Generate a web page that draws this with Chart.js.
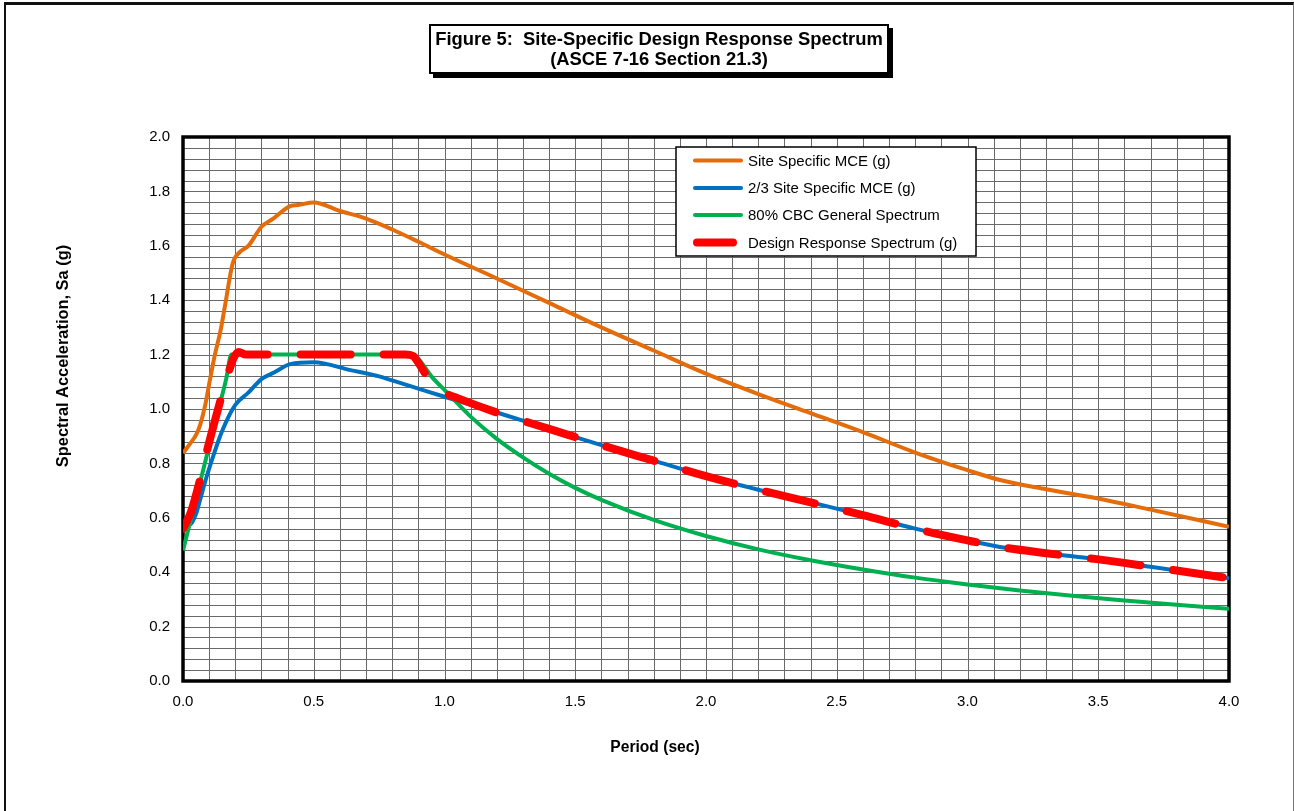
<!DOCTYPE html>
<html>
<head>
<meta charset="utf-8">
<title>Site-Specific Design Response Spectrum</title>
<script src="https://cdn.jsdelivr.net/npm/chart.js@4.4.0/dist/chart.umd.min.js"></script>
<style>
    html, body { margin: 0; padding: 0; background: #fff; overflow: hidden; }
    #page { position: relative; width: 1294px; height: 811px; }
    #frame {
        position: absolute; left: 4px; top: 2px; width: 1287px; height: 840px;
        border-left: 2px solid #111; border-top: 3px solid #111; border-right: 1px solid #777;
    }
    #chart { position: absolute; left: 0; top: 0; }
    #title {
        position: absolute; left: 429px; top: 24px; width: 460px; height: 50px;
        box-sizing: border-box; border: 2px solid #000; box-shadow: 4px 4px 0 #000;
        background: #fff; text-align: center; white-space: pre;
        font: bold 18.4px "Liberation Sans", Arial, sans-serif; line-height: 20px; padding-top: 3px;
    }
</style>
</head>
<body>
<div id="page">
    <div id="frame"></div>
    <canvas id="chart" width="1294" height="811"></canvas>
    <div id="title">Figure 5:  Site-Specific Design Response Spectrum
(ASCE 7-16 Section 21.3)</div>
</div>
<script>
// ===== DATOS =====
const mcePeriods = [0, 0.025, 0.05, 0.065, 0.084, 0.103, 0.122, 0.144, 0.16, 0.19, 0.215, 0.25, 0.3, 0.345, 0.41, 0.44, 0.5,
    0.6, 0.7, 0.8, 0.9, 1.0, 1.2, 1.4, 1.6, 1.8, 2.0, 2.2, 2.4, 2.6, 2.8, 3.0, 3.124, 3.3, 3.494, 3.7, 4.0];
const mceValues = [0.838, 0.87, 0.905, 0.94, 1.01, 1.107, 1.2, 1.29, 1.376, 1.535, 1.575, 1.6, 1.67, 1.7, 1.746, 1.75, 1.759,
    1.728, 1.7, 1.66, 1.615, 1.568, 1.48, 1.39, 1.3, 1.215, 1.13, 1.055, 0.985, 0.915, 0.84, 0.775, 0.739, 0.705, 0.672, 0.63, 0.567];

const twoThirdsPeriods = [0, 0.027, 0.05, 0.065, 0.09, 0.12, 0.15, 0.2, 0.25, 0.3, 0.35, 0.41, 0.5, 0.64, 0.75, 0.8, 0.9,
    1.0, 1.2, 1.4, 1.6, 1.8, 2.0, 2.2, 2.4, 2.6, 2.8, 3.0, 3.124, 3.3, 3.494, 3.7, 4.0];
const twoThirdsValues = [0.572, 0.575, 0.615, 0.665, 0.75, 0.84, 0.92, 1.015, 1.06, 1.11, 1.135, 1.165, 1.172, 1.143, 1.12, 1.105, 1.075,
    1.045, 0.987, 0.927, 0.867, 0.81, 0.753, 0.703, 0.657, 0.61, 0.56, 0.517, 0.493, 0.47, 0.448, 0.42, 0.378];

const cbcPeriods = [0, 0.06, 0.12, 0.165, 0.185, 0.3, 0.5, 0.7, 0.87, 0.9, 0.92, 0.95, 1.0, 1.1, 1.2, 1.3, 1.4, 1.5, 1.6,
    1.8, 2.0, 2.2, 2.4, 2.6, 2.8, 3.0, 3.2, 3.4, 3.6, 3.8, 4.0];
const cbcValues = [0.48, 0.71, 0.94, 1.11, 1.2, 1.2, 1.2, 1.2, 1.2, 1.185, 1.16, 1.12, 1.07, 0.972, 0.89, 0.822, 0.762, 0.71, 0.666,
    0.592, 0.533, 0.484, 0.444, 0.41, 0.38, 0.355, 0.333, 0.313, 0.296, 0.28, 0.266];

const designPeriods = [0, 0.03, 0.065, 0.09, 0.147, 0.173, 0.195, 0.213, 0.24, 0.3, 0.5, 0.7, 0.85, 0.88, 0.9, 0.93, 0.97, 1.0, 1.05,
    1.2, 1.4, 1.6, 1.8, 2.0, 2.2, 2.4, 2.6, 2.8, 3.0, 3.124, 3.3, 3.494, 3.7, 4.0];
const designValues = [0.56, 0.62, 0.74, 0.84, 1.045, 1.13, 1.19, 1.21, 1.2, 1.2, 1.2, 1.2, 1.2, 1.195, 1.17, 1.125, 1.085, 1.06, 1.04,
    0.987, 0.927, 0.867, 0.81, 0.753, 0.703, 0.657, 0.61, 0.56, 0.517, 0.493, 0.47, 0.448, 0.42, 0.378];

// ejes
const xMax = 4.0, xGridStep = 0.1, xLabelStep = 0.5;
const yMax = 2.0, yGridStep = 0.04, yLabelStep = 0.2;

const fontFamily = '"Liberation Sans", Arial, sans-serif';

function toPoints(xs, ys) {
    return xs.map((x, i) => ({ x: x, y: ys[i] }));
}

// ===== CUADRICULA Y MARCO =====
const gridAndFrame = {
    id: 'gridAndFrame',
    beforeDatasetsDraw(chart) {
        const { ctx, chartArea: a, scales: { x, y } } = chart;
        ctx.save();
        ctx.strokeStyle = '#6a6a6a';
        ctx.lineWidth = 1;
        ctx.beginPath();
        const nx = Math.round(xMax / xGridStep);
        for (let i = 1; i < nx; i++) {
            const px = Math.round(x.getPixelForValue(i * xGridStep)) + 0.5;
            ctx.moveTo(px, a.top);
            ctx.lineTo(px, a.bottom);
        }
        const ny = Math.round(yMax / yGridStep);
        for (let i = 1; i < ny; i++) {
            const py = Math.round(y.getPixelForValue(i * yGridStep)) + 0.5;
            ctx.moveTo(a.left, py);
            ctx.lineTo(a.right, py);
        }
        ctx.stroke();
        ctx.strokeStyle = '#000';
        ctx.lineWidth = 3.5;
        ctx.strokeRect(a.left, a.top, a.right - a.left, a.bottom - a.top);
        ctx.restore();
    }
};

// ===== LEYENDA Y TITULOS DE EJES =====
const boxLegendAndTitles = {
    id: 'boxLegendAndTitles',
    afterDraw(chart) {
        const ctx = chart.ctx;
        ctx.save();

        // titulos de ejes
        ctx.fillStyle = '#000';
        ctx.textAlign = 'center';
        ctx.textBaseline = 'middle';
        ctx.font = 'bold 15.6px ' + fontFamily;
        ctx.fillText('Period (sec)', 655, 748);
        ctx.save();
        ctx.translate(63, 356);
        ctx.rotate(-Math.PI / 2);
        ctx.font = 'bold 16.4px ' + fontFamily;
        ctx.fillText('Spectral Acceleration, Sa (g)', 0, 0);
        ctx.restore();

        // leyenda
        const lx = 676, ly = 147, lw = 300, lh = 109;
        ctx.fillStyle = '#fff';
        ctx.fillRect(lx, ly, lw, lh);
        ctx.strokeStyle = '#000';
        ctx.lineWidth = 1.5;
        ctx.strokeRect(lx, ly, lw, lh);

        const rows = [160.5, 188, 215, 242.5];
        ctx.font = '15px ' + fontFamily;
        ctx.textAlign = 'left';
        chart.data.datasets.forEach((ds, i) => {
            const yy = rows[i];
            ctx.strokeStyle = ds.borderColor;
            ctx.lineCap = 'round';
            ctx.lineWidth = ds.borderWidth;
            ctx.beginPath();
            if (ds.borderWidth > 5) {
                ctx.moveTo(697, yy);
                ctx.lineTo(733, yy);
            } else {
                ctx.moveTo(695, yy);
                ctx.lineTo(741, yy);
            }
            ctx.stroke();
            ctx.fillStyle = '#000';
            ctx.fillText(ds.label, 748, yy + 1);
        });
        ctx.restore();
    }
};

// ===== GRAFICO =====
const ctx = document.getElementById('chart').getContext('2d');
new Chart(ctx, {
    type: 'line',
    data: {
        datasets: [
            {
                label: 'Site Specific MCE (g)',
                data: toPoints(mcePeriods, mceValues),
                borderColor: '#e46c0a', borderWidth: 4, order: 4
            },
            {
                label: '2/3 Site Specific MCE (g)',
                data: toPoints(twoThirdsPeriods, twoThirdsValues),
                borderColor: '#0070c0', borderWidth: 4, order: 3
            },
            {
                label: '80% CBC General Spectrum',
                data: toPoints(cbcPeriods, cbcValues),
                borderColor: '#00b050', borderWidth: 4, order: 2
            },
            {
                label: 'Design Response Spectrum (g)',
                data: toPoints(designPeriods, designValues),
                borderColor: '#ff0000', borderWidth: 8, order: 1,
                borderDash: [50, 33], borderCapStyle: 'round'
            }
        ]
    },
    options: {
        responsive: false,
        animation: false,
        events: [],
        layout: { padding: { top: 137, right: 65, bottom: 0, left: 0 } },
        elements: {
            point: { radius: 0 },
            line: { cubicInterpolationMode: 'monotone', fill: false, borderJoinStyle: 'round' }
        },
        plugins: {
            legend: { display: false },
            tooltip: { enabled: false },
            title: { display: false }
        },
        scales: {
            x: {
                type: 'linear', min: 0, max: xMax,
                grid: { display: false, drawTicks: false },
                border: { display: false },
                ticks: {
                    stepSize: xLabelStep, autoSkip: false, maxRotation: 0, padding: 12,
                    color: '#000', font: { family: fontFamily, size: 15 },
                    callback: v => v.toFixed(1)
                },
                afterFit: s => { s.height = 130; }
            },
            y: {
                type: 'linear', min: 0, max: yMax,
                grid: { display: false, drawTicks: false },
                border: { display: false },
                ticks: {
                    stepSize: yLabelStep, autoSkip: false, padding: 13,
                    color: '#000', font: { family: fontFamily, size: 15 },
                    callback: v => v.toFixed(1)
                },
                afterFit: s => { s.width = 183; }
            }
        }
    },
    plugins: [gridAndFrame, boxLegendAndTitles]
});
</script>
</body>
</html>
